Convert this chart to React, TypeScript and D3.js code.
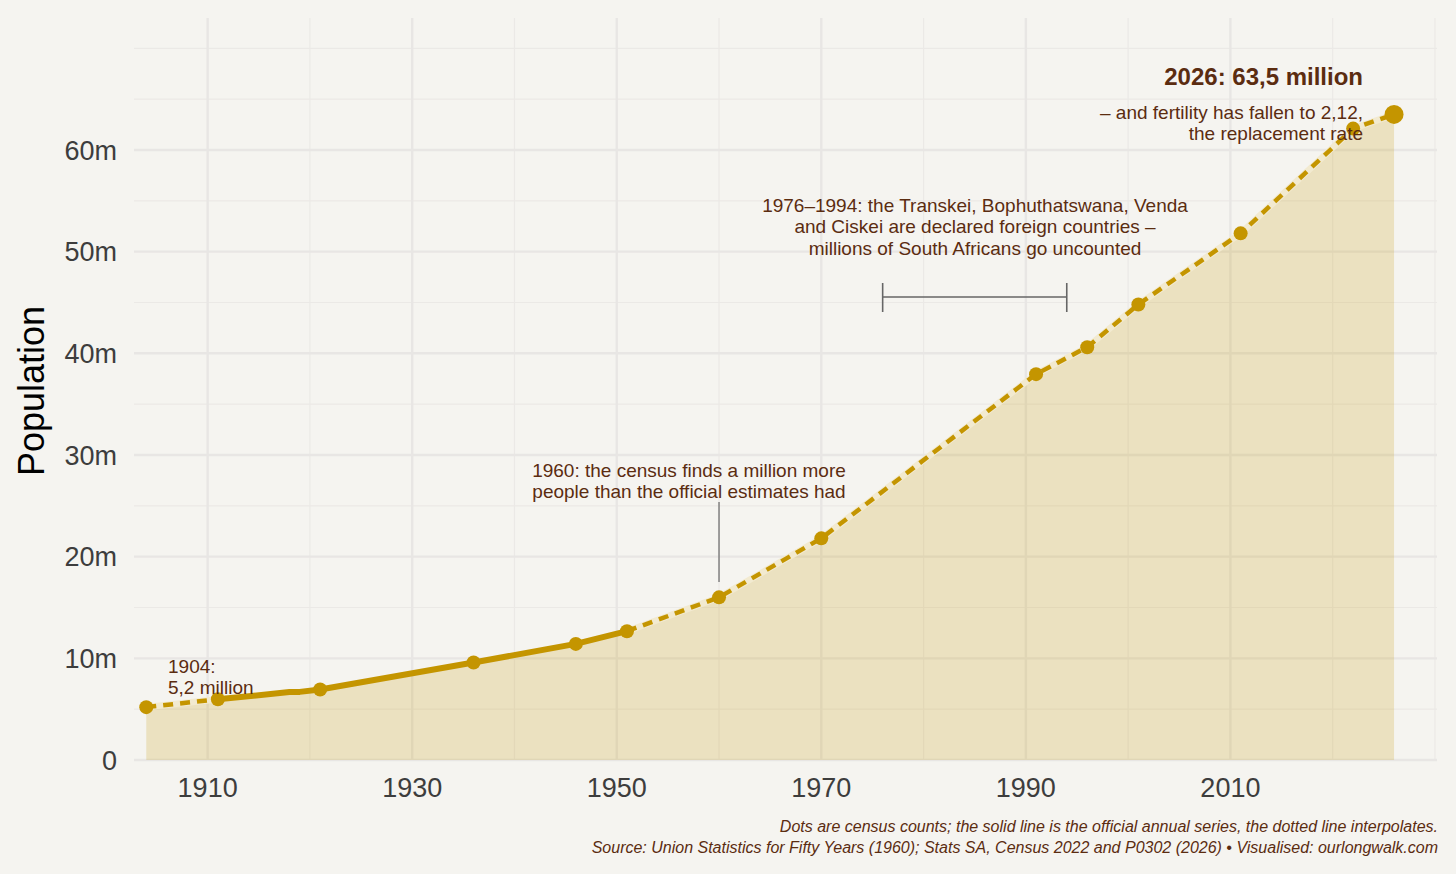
import * as d3 from "d3";
import { useEffect, useRef } from "react";

// census counts (dots), millions
const censusYears = [1904, 1911, 1921, 1936, 1946, 1951, 1960, 1970, 1991, 1996, 2001, 2011, 2022];
const censusPop = [5.2, 5.97, 6.93, 9.59, 11.42, 12.67, 16.0, 21.8, 37.95, 40.6, 44.8, 51.8, 62.1];

// official annual series (solid line)
const officialYears = [1911, 1918, 1919, 1921, 1936, 1946, 1951];
const officialPop = [5.97, 6.68, 6.7, 6.93, 9.59, 11.42, 12.67];

// latest estimate
const latestYear = 2026;
const latestPop = 63.5;

const xMajor = [1910, 1930, 1950, 1970, 1990, 2010];
const xMinor = [1920, 1940, 1960, 1980, 2000, 2020, 2030];
const yMajor = [0, 10, 20, 30, 40, 50, 60];
const yMinor = [5, 15, 25, 35, 45, 55, 65, 70];

const captionLines = [
  "Dots are census counts; the solid line is the official annual series, the dotted line interpolates.",
  "Source: Union Statistics for Fifty Years (1960); Stats SA, Census 2022 and P0302 (2026) • Visualised: ourlongwalk.com",
];

const W = 1456;
const H = 874;
const BG = "#f5f4f0";
const GOLD = "#c49500";
const BROWN = "#5b2c10";
const FONT = "'Liberation Sans', Arial, sans-serif";

type Pt = [number, number];

export default function App() {
  const svgRef = useRef<SVGSVGElement>(null);

  useEffect(() => {
    if (!svgRef.current) return;
    const svg = d3.select(svgRef.current);
    svg.selectAll("*").remove();

    const x = d3.scaleLinear([1902.8, 2030.2], [134, 1437]);
    const y = d3.scaleLinear([0, 72.98], [760, 18]);

    svg.append("rect").attr("width", W).attr("height", H).attr("fill", BG);

    // grid
    const grid = svg.append("g");
    const hLines = (vals: number[], color: string, w: number) =>
      grid
        .append("g")
        .selectAll("line")
        .data(vals)
        .join("line")
        .attr("x1", x.range()[0])
        .attr("x2", x.range()[1])
        .attr("y1", (d) => y(d))
        .attr("y2", (d) => y(d))
        .attr("stroke", color)
        .attr("stroke-width", w);
    const vLines = (vals: number[], color: string, w: number) =>
      grid
        .append("g")
        .selectAll("line")
        .data(vals)
        .join("line")
        .attr("x1", (d) => x(d))
        .attr("x2", (d) => x(d))
        .attr("y1", y.range()[0])
        .attr("y2", y.range()[1])
        .attr("stroke", color)
        .attr("stroke-width", w);
    hLines(yMinor, "#ebe9e6", 1.2);
    vLines(xMinor, "#ebe9e6", 1.2);
    hLines(yMajor, "#e8e6e4", 2.4);
    vLines(xMajor, "#e8e6e4", 2.4);

    // series
    const census: Pt[] = censusYears.map((yr, i) => [yr, censusPop[i]]);
    const official: Pt[] = officialYears.map((yr, i) => [yr, officialPop[i]]);
    const early = census.filter((d) => d[0] <= 1911);
    const late: Pt[] = [...census.filter((d) => d[0] >= 1951), [latestYear, latestPop]];

    const lin = d3.line<Pt>().x((d) => x(d[0])).y((d) => y(d[1]));

    const top =
      (lin(early) ?? "") +
      (lin(official) ?? "").replace(/^M/, "L") +
      (lin(late) ?? "").replace(/^M/, "L");
    const areaPath = `${top}L${x(latestYear)},${y(0)}L${x(1904)},${y(0)}Z`;

    svg.append("path").attr("d", areaPath).attr("fill", GOLD).attr("fill-opacity", 0.2);

    // dashed interpolation with a pale halo underneath
    [early, late].forEach((seg) => {
      svg
        .append("path")
        .attr("d", lin(seg) ?? "")
        .attr("fill", "none")
        .attr("stroke", "#f2ead0")
        .attr("stroke-width", 6.5)
        .attr("stroke-linejoin", "round");
      svg
        .append("path")
        .attr("d", lin(seg) ?? "")
        .attr("fill", "none")
        .attr("stroke", GOLD)
        .attr("stroke-width", 4.5)
        .attr("stroke-dasharray", "10,7");
    });

    svg
      .append("path")
      .attr("d", lin(official) ?? "")
      .attr("fill", "none")
      .attr("stroke", GOLD)
      .attr("stroke-width", 6)
      .attr("stroke-linejoin", "round");

    svg
      .append("g")
      .selectAll("circle")
      .data(census)
      .join("circle")
      .attr("cx", (d) => x(d[0]))
      .attr("cy", (d) => y(d[1]))
      .attr("r", 7)
      .attr("fill", GOLD);

    svg
      .append("circle")
      .attr("cx", x(latestYear))
      .attr("cy", y(latestPop))
      .attr("r", 9.5)
      .attr("fill", GOLD);

    // axes labels
    svg
      .append("g")
      .selectAll("text")
      .data(xMajor)
      .join("text")
      .attr("x", (d) => x(d))
      .attr("y", 797)
      .attr("text-anchor", "middle")
      .attr("font-family", FONT)
      .attr("font-size", 27)
      .attr("fill", "#3d3d3d")
      .text((d) => String(d));

    svg
      .append("g")
      .selectAll("text")
      .data(yMajor)
      .join("text")
      .attr("x", 117)
      .attr("y", (d) => y(d))
      .attr("dy", "0.36em")
      .attr("text-anchor", "end")
      .attr("font-family", FONT)
      .attr("font-size", 27)
      .attr("fill", "#3d3d3d")
      .text((d) => (d === 0 ? "0" : `${d}m`));

    svg
      .append("text")
      .attr("transform", `translate(44,${y(36.3)}) rotate(-90)`)
      .attr("text-anchor", "middle")
      .attr("font-family", FONT)
      .attr("font-size", 36)
      .attr("fill", "#000")
      .text("Population");

    // annotations
    const note = (lines: string[], tx: number, ty: number, anchor: string, size = 19, weight = "normal") => {
      const t = svg
        .append("text")
        .attr("text-anchor", anchor)
        .attr("font-family", FONT)
        .attr("font-size", size)
        .attr("font-weight", weight)
        .attr("fill", BROWN);
      lines.forEach((l, i) => {
        t.append("tspan").attr("x", tx).attr("y", ty + i * 21.3).text(l);
      });
    };

    note(["1904:", "5,2 million"], 168, 673, "start");
    note(
      ["1960: the census finds a million more", "people than the official estimates had"],
      689,
      477,
      "middle"
    );
    svg
      .append("line")
      .attr("x1", x(1960))
      .attr("x2", x(1960))
      .attr("y1", 502)
      .attr("y2", 582)
      .attr("stroke", "#666")
      .attr("stroke-width", 1.2);

    note(
      [
        "1976–1994: the Transkei, Bophuthatswana, Venda",
        "and Ciskei are declared foreign countries –",
        "millions of South Africans go uncounted",
      ],
      975,
      212,
      "middle"
    );

    const bracket = svg.append("g").attr("stroke", "#666").attr("stroke-width", 1.6).attr("fill", "none");
    bracket.append("line").attr("x1", x(1976)).attr("x2", x(1994)).attr("y1", 297).attr("y2", 297);
    [1976, 1994].forEach((yr) =>
      bracket.append("line").attr("x1", x(yr)).attr("x2", x(yr)).attr("y1", 283).attr("y2", 312)
    );

    note(["2026: 63,5 million"], 1363, 85, "end", 24, "bold");
    note(["– and fertility has fallen to 2,12,", "the replacement rate"], 1363, 119, "end");

    // caption
    captionLines.forEach((l, i) => {
      svg
        .append("text")
        .attr("x", 1438)
        .attr("y", 832 + i * 21)
        .attr("text-anchor", "end")
        .attr("font-family", FONT)
        .attr("font-size", 16)
        .attr("font-style", "italic")
        .attr("fill", BROWN)
        .text(l);
    });
  }, []);

  return (
    <div style={{ position: "absolute", left: 0, top: 0, width: W, height: H }}>
      <svg ref={svgRef} width={W} height={H} viewBox={`0 0 ${W} ${H}`} style={{ display: "block" }} />
    </div>
  );
}
